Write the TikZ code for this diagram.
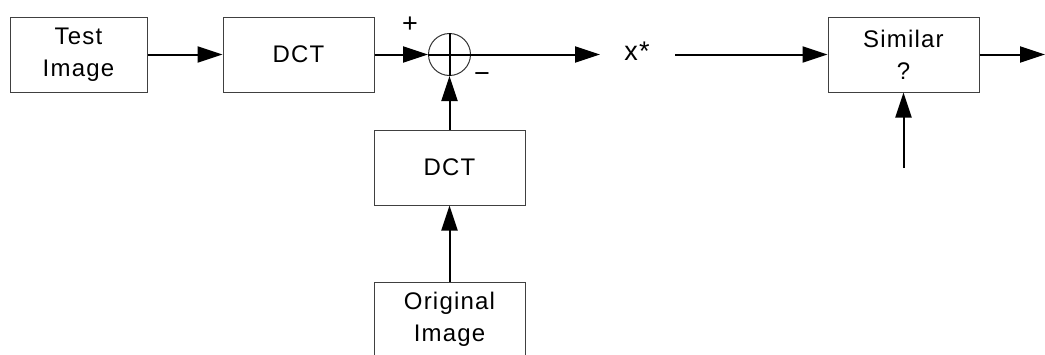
\documentclass[tikz,border=0pt]{standalone}
\usepackage{fontspec}
\setmainfont[LetterSpace=5]{Liberation Sans}
\usetikzlibrary{arrows.meta}
\begin{document}
\begin{tikzpicture}[x=1pt,y=-1pt,
  blockbox/.style={draw=black!75,line width=1pt,minimum width=151pt,minimum height=75pt,
    inner sep=0pt,align=center,font=\fontsize{24}{32}\selectfont},
  sig/.style={line width=2pt,-{Triangle[length=25pt,width=16pt]}},
  lbl/.style={inner sep=0pt,font=\fontsize{27}{32}\selectfont}]
\useasboundingbox (0,0) rectangle (1045,354);
\clip (0,0) rectangle (1045,354);
\node[blockbox,minimum width=137pt] (test) at (78.5,54.5) {Test\\Image};
\node[blockbox] (dcta) at (298.5,54.5) {DCT};
\node[draw=black!80,line width=1pt,circle,minimum size=42pt,inner sep=0pt] (sum) at (449.5,54.5) {};
\node[blockbox] (dctb) at (449.5,167.5) {DCT};
\node[blockbox] (orig) at (449.5,319.5) {Original\\Image};
\node[lbl] (xs) at (637,51) {x*};
\node[blockbox] (sim) at (903.5,54.5) {Similar\\?};
\coordinate (xin) at (600,54.5);
\coordinate (xout) at (675,54.5);
\coordinate (fin) at (1045,54.5);
\coordinate (ref) at (903.5,168);
% signal flow
\draw[sig] (test) -- (dcta);
\draw[sig] (dcta) -- (sum.west);
\draw[sig] (orig) -- (dctb);
\draw[sig] (dctb) -- (sum.south);
\draw[sig] (sum.west) -- (xin);
\draw[line width=2pt] (sum.south) -- (sum.north);
\draw[sig] (xout) -- (sim);
\draw[sig] (sim) -- (fin);
\draw[sig] (ref) -- (sim.south);
% signs at the summing junction
\node[lbl] (plus) at (410,25) {+};
\node[lbl] (minus) at (482,78) {\textminus};
\end{tikzpicture}
\end{document}
